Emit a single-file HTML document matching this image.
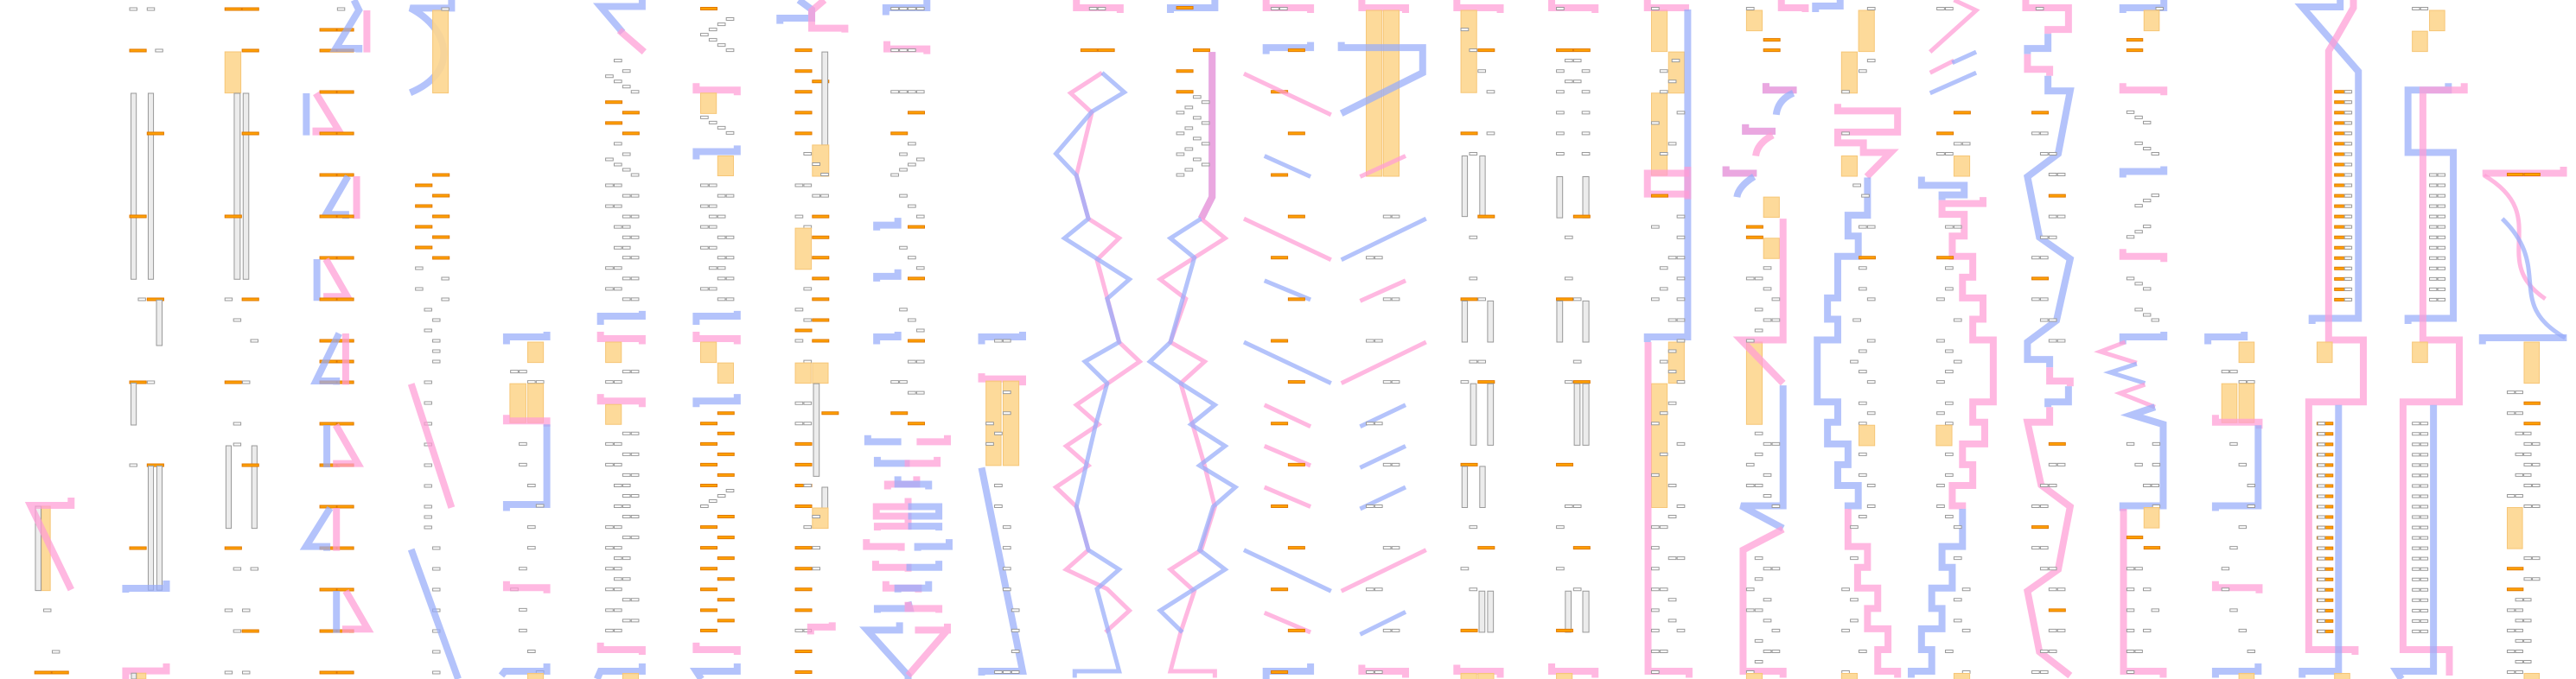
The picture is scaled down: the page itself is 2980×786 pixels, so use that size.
<!DOCTYPE html>
<html><head><meta charset="utf-8"><style>
html,body{margin:0;padding:0;background:#fff}
svg{display:block}
.b,.p,.bt,.pt{fill:none;vector-effect:non-scaling-stroke;stroke-linejoin:miter;stroke-opacity:.72}
.b{stroke:#97acf9;stroke-width:8}
.p{stroke:#ff9cd5;stroke-width:8}
.bt{stroke:#97acf9;stroke-width:5}
.pt{stroke:#ff9cd5;stroke-width:5}
.l{fill:#fdd68f;stroke:#f6c677;stroke-width:1;vector-effect:non-scaling-stroke;fill-opacity:.9}
.d{fill:#ececec;stroke:#999;stroke-width:1;vector-effect:non-scaling-stroke}
</style></head><body>
<svg width="2980" height="786" viewBox="0 0 2980 786" xmlns="http://www.w3.org/2000/svg">
<defs>
<rect id="P" width="22" height="6" fill="#fff" stroke="#999" stroke-width="1" vector-effect="non-scaling-stroke"/>
<rect id="O" width="48" height="6" fill="#ffa200" stroke="#e07800" stroke-width="1" vector-effect="non-scaling-stroke"/>
<rect id="P2" width="22" height="9" fill="#fff" stroke="#999" stroke-width="1" vector-effect="non-scaling-stroke"/>
<rect id="O2" width="50" height="9" fill="#ffa200" stroke="#e07800" stroke-width="1" vector-effect="non-scaling-stroke"/>
</defs>

<!-- G1 -->
<g transform="translate(0,0) scale(0.3827,0.3333)">
<use href="#P2" x="392" y="27"/><use href="#P2" x="445" y="27"/>
<use href="#O2" x="392" y="171"/><use href="#P2" x="470" y="171"/>
<rect class="d" x="396" y="324" width="16" height="646"/><rect class="d" x="448" y="324" width="16" height="646"/>
<use href="#O2" x="445" y="459"/><use href="#O2" x="392" y="747"/>
<use href="#P2" x="418" y="1035"/><use href="#O2" x="445" y="1035"/>
<rect class="d" x="473" y="1042" width="17" height="158"/>
<use href="#O2" x="680" y="27"/><use href="#O2" x="732" y="27"/><use href="#O2" x="732" y="171"/>
<rect class="l" x="680" y="180" width="48" height="143"/>
<rect class="d" x="708" y="324" width="18" height="646"/><rect class="d" x="735" y="324" width="17" height="646"/>
<use href="#O2" x="732" y="459"/><use href="#O2" x="680" y="747"/>
<use href="#P2" x="680" y="1035"/><use href="#O2" x="732" y="1035"/>
<use href="#P2" x="706" y="1107"/><use href="#P2" x="758" y="1179"/>
<use href="#P2" x="1020" y="27"/>
<use href="#O2" x="967" y="99"/><use href="#O2" x="1019" y="99"/><use href="#O2" x="967" y="171"/><use href="#O2" x="1019" y="171"/>
<path class="b" d="M1070,0 L1085,35 L1015,168 L1085,168 L1085,182"/>
<path class="p" d="M1109,36 L1109,182"/>
<use href="#O2" x="967" y="315"/><use href="#O2" x="1019" y="315"/>
<path class="b" d="M926,324 L926,470"/>
<path class="p" d="M955,324 L1025,455 L955,455 L955,470"/>
<use href="#O2" x="967" y="459"/><use href="#O2" x="1019" y="459"/>
<use href="#O2" x="967" y="603"/><use href="#O2" x="1019" y="603"/>
<path class="b" d="M1052,612 L985,745 L1045,745 L1045,760"/>
<path class="p" d="M1078,612 L1078,760"/>
<use href="#O2" x="967" y="747"/><use href="#O2" x="1019" y="747"/>
<use href="#O2" x="967" y="891"/><use href="#O2" x="1019" y="891"/>
<path class="b" d="M958,900 L958,1045"/>
<path class="p" d="M985,900 L1050,1030 L988,1030 L988,1045"/>
<use href="#O2" x="967" y="1035"/><use href="#O2" x="1019" y="1035"/>
<use href="#O2" x="967" y="1179"/><use href="#O2" x="1019" y="1179"/>
<path class="b" d="M1365,0 L1365,28 L1240,28 C1360,100 1390,250 1240,322"/>
<rect class="l" x="1308" y="36" width="47" height="287"/>
<use href="#P2" x="1335" y="27"/>
<use href="#O2" x="1308" y="603"/><use href="#O2" x="1256" y="639"/><use href="#O2" x="1308" y="675"/><use href="#O2" x="1256" y="711"/><use href="#O2" x="1308" y="747"/><use href="#O2" x="1256" y="783"/><use href="#O2" x="1308" y="819"/><use href="#O2" x="1256" y="855"/><use href="#O2" x="1308" y="891"/>
<use href="#P2" x="1256" y="927"/><use href="#P2" x="1335" y="963"/><use href="#P2" x="1256" y="999"/><use href="#P2" x="1335" y="1035"/><use href="#P2" x="1283" y="1071"/><use href="#P2" x="1308" y="1107"/><use href="#P2" x="1283" y="1143"/><use href="#P2" x="1308" y="1179"/>
</g>

<!-- G2 -->
<g transform="translate(0,386) scale(0.3827,0.3333)">
<use href="#O2" x="392" y="165"/><use href="#P2" x="445" y="165"/>
<rect class="d" x="396" y="172" width="16" height="146"/>
<use href="#P2" x="392" y="453"/><use href="#O2" x="445" y="453"/>
<rect class="d" x="448" y="460" width="16" height="432"/><rect class="d" x="474" y="460" width="16" height="432"/>
<use href="#O2" x="392" y="741"/>
<path class="b" d="M380,900 L380,885 L503,885 L503,858"/>
<path class="p" d="M380,1200 L380,1172 L503,1172 L503,1146"/>
<rect class="l" x="413" y="1180" width="28" height="20"/>
<rect class="d" x="397" y="1180" width="15" height="20"/>
<rect class="l" x="125" y="600" width="27" height="293"/>
<rect class="d" x="107" y="600" width="17" height="293"/>
<path class="p" d="M215,570 L215,597 L92,597 L215,890"/>
<use href="#P2" x="132" y="957"/><use href="#P2" x="158" y="1101"/><use href="#O2" x="105" y="1173"/><use href="#O2" x="157" y="1173"/>
<use href="#P2" x="758" y="21"/><use href="#O2" x="680" y="165"/><use href="#P2" x="733" y="165"/>
<use href="#P2" x="706" y="309"/><use href="#P2" x="706" y="381"/>
<rect class="d" x="683" y="390" width="16" height="287"/><rect class="d" x="761" y="390" width="16" height="287"/>
<use href="#O2" x="732" y="453"/><use href="#O2" x="680" y="741"/>
<use href="#P2" x="706" y="813"/><use href="#P2" x="758" y="813"/><use href="#P2" x="680" y="957"/><use href="#P2" x="733" y="957"/>
<use href="#P2" x="706" y="1029"/><use href="#O2" x="732" y="1029"/><use href="#P2" x="680" y="1173"/><use href="#P2" x="733" y="1173"/>
<use href="#O2" x="967" y="21"/><use href="#O2" x="1019" y="21"/>
<use href="#O2" x="967" y="93"/><use href="#O2" x="1019" y="93"/>
<use href="#O2" x="967" y="165"/><use href="#O2" x="1019" y="165"/>
<use href="#O2" x="967" y="309"/><use href="#O2" x="1019" y="309"/>
<use href="#O2" x="967" y="453"/><use href="#O2" x="1019" y="453"/>
<use href="#O2" x="967" y="597"/><use href="#O2" x="1019" y="597"/>
<use href="#O2" x="967" y="741"/><use href="#O2" x="1019" y="741"/>
<use href="#O2" x="967" y="885"/><use href="#O2" x="1019" y="885"/>
<use href="#O2" x="967" y="1029"/><use href="#O2" x="1019" y="1029"/>
<use href="#O2" x="967" y="1173"/><use href="#O2" x="1019" y="1173"/>
<path class="b" d="M1025,0 L955,165 L1017,165 L1017,178"/>
<path class="p" d="M1045,0 L1045,178"/>
<path class="b" d="M988,318 L988,465"/>
<path class="p" d="M1015,318 L1082,452 L1017,452 L1017,465"/>
<path class="b" d="M998,606 L925,740 L988,740 L988,755"/>
<path class="p" d="M1017,606 L1017,755"/>
<path class="b" d="M1017,894 L1017,1040"/>
<path class="p" d="M1045,894 L1112,1027 L1045,1027 L1045,1040"/>
<use href="#P2" x="1308" y="21"/><use href="#P2" x="1308" y="57"/><use href="#P2" x="1308" y="93"/><use href="#P2" x="1283" y="165"/><use href="#P2" x="1283" y="237"/><use href="#P2" x="1283" y="309"/><use href="#P2" x="1283" y="381"/><use href="#P2" x="1283" y="453"/><use href="#P2" x="1283" y="525"/><use href="#P2" x="1283" y="597"/><use href="#P2" x="1283" y="633"/><use href="#P2" x="1283" y="669"/><use href="#P2" x="1308" y="741"/><use href="#P2" x="1308" y="813"/><use href="#P2" x="1308" y="885"/><use href="#P2" x="1308" y="957"/><use href="#P2" x="1308" y="1029"/><use href="#P2" x="1308" y="1101"/><use href="#P2" x="1308" y="1173"/>
<path class="p" d="M1243,175 L1365,605"/>
<path class="b" d="M1243,750 L1385,1200"/>
</g>

<!-- G3 -->
<g transform="translate(580,0) scale(0.3954,0.5013)">
<path class="b" d="M15,795 L15,778 L133,778 L133,766"/>
<rect class="l" x="77" y="790" width="46" height="47"/>
<use href="#P" x="27" y="855"/><use href="#P" x="52" y="855"/><use href="#P" x="77" y="879"/><use href="#P" x="102" y="879"/>
<rect class="l" x="25" y="886" width="47" height="90"/><rect class="l" x="77" y="886" width="46" height="90"/>
<path class="p" d="M15,958 L15,972 L133,972 L133,985"/>
<path class="b" d="M133,980 L133,1165 L15,1165 L15,1180"/>
<use href="#P" x="52" y="1022"/><use href="#P" x="52" y="1070"/><use href="#P" x="77" y="1118"/><use href="#P" x="102" y="1165"/><use href="#P" x="77" y="1214"/><use href="#P" x="77" y="1262"/><use href="#P" x="52" y="1310"/><use href="#P" x="27" y="1358"/><use href="#P" x="52" y="1405"/><use href="#P" x="52" y="1453"/><use href="#P" x="77" y="1501"/><use href="#P" x="102" y="1549"/>
<path class="p" d="M15,1342 L15,1357 L133,1357 L133,1370"/>
<path class="b" d="M133,1532 L133,1550 L10,1550 L0,1560"/>
<rect class="l" x="77" y="1555" width="46" height="15"/>
<!-- col6 -->
<path class="b" d="M412,0 L412,15 L290,15 L355,75"/>
<path class="p" d="M345,70 L418,120"/>
<use href="#P" x="330" y="137"/><use href="#P" x="355" y="161"/><use href="#P" x="305" y="173"/><use href="#P" x="330" y="185"/><use href="#P" x="355" y="197"/><use href="#P" x="380" y="209"/>
<use href="#O" x="305" y="233"/><use href="#O" x="355" y="257"/><use href="#O" x="305" y="281"/><use href="#O" x="355" y="305"/>
<use href="#P" x="330" y="329"/><use href="#P" x="355" y="353"/><use href="#P" x="305" y="365"/><use href="#P" x="330" y="377"/><use href="#P" x="355" y="389"/><use href="#P" x="380" y="401"/>
<use href="#P" x="305" y="425"/><use href="#P" x="330" y="425"/><use href="#P" x="355" y="449"/><use href="#P" x="380" y="449"/><use href="#P" x="305" y="473"/><use href="#P" x="330" y="473"/><use href="#P" x="355" y="497"/><use href="#P" x="380" y="497"/><use href="#P" x="330" y="521"/><use href="#P" x="355" y="521"/><use href="#P" x="355" y="545"/><use href="#P" x="380" y="545"/><use href="#P" x="330" y="569"/><use href="#P" x="355" y="569"/><use href="#P" x="355" y="592"/><use href="#P" x="380" y="592"/><use href="#P" x="305" y="616"/><use href="#P" x="330" y="616"/><use href="#P" x="355" y="640"/><use href="#P" x="380" y="640"/><use href="#P" x="305" y="664"/><use href="#P" x="330" y="664"/><use href="#P" x="355" y="688"/><use href="#P" x="380" y="688"/>
<path class="b" d="M290,750 L290,730 L412,730 L412,718"/>
<path class="p" d="M290,766 L290,782 L412,782 L412,795"/>
<rect class="l" x="305" y="790" width="46" height="47"/>
<use href="#P" x="355" y="855"/><use href="#P" x="380" y="855"/><use href="#P" x="305" y="879"/><use href="#P" x="330" y="879"/>
<path class="p" d="M290,910 L290,926 L412,926 L412,940"/>
<rect class="l" x="305" y="934" width="46" height="46"/>
<use href="#P" x="355" y="998"/><use href="#P" x="380" y="998"/><use href="#P" x="305" y="1022"/><use href="#P" x="330" y="1022"/><use href="#P" x="355" y="1046"/><use href="#P" x="380" y="1046"/><use href="#P" x="305" y="1070"/><use href="#P" x="330" y="1070"/><use href="#P" x="355" y="1094"/><use href="#P" x="380" y="1094"/><use href="#P" x="330" y="1118"/><use href="#P" x="355" y="1118"/><use href="#P" x="355" y="1142"/><use href="#P" x="380" y="1142"/><use href="#P" x="330" y="1166"/><use href="#P" x="355" y="1166"/><use href="#P" x="355" y="1190"/><use href="#P" x="380" y="1190"/><use href="#P" x="305" y="1214"/><use href="#P" x="330" y="1214"/><use href="#P" x="355" y="1238"/><use href="#P" x="380" y="1238"/><use href="#P" x="305" y="1262"/><use href="#P" x="330" y="1262"/><use href="#P" x="330" y="1286"/><use href="#P" x="355" y="1286"/><use href="#P" x="305" y="1310"/><use href="#P" x="330" y="1310"/><use href="#P" x="330" y="1334"/><use href="#P" x="355" y="1334"/><use href="#P" x="305" y="1358"/><use href="#P" x="330" y="1358"/><use href="#P" x="355" y="1382"/><use href="#P" x="380" y="1382"/><use href="#P" x="305" y="1406"/><use href="#P" x="330" y="1406"/><use href="#P" x="355" y="1430"/><use href="#P" x="380" y="1430"/><use href="#P" x="305" y="1453"/><use href="#P" x="330" y="1453"/>
<path class="p" d="M290,1484 L290,1500 L412,1500 L412,1512"/>
<path class="b" d="M412,1532 L412,1550 L290,1550 L280,1568"/>
<rect class="l" x="355" y="1555" width="46" height="15"/>
<!-- col7 -->
<use href="#O" x="583" y="17"/><use href="#P" x="658" y="41"/><use href="#P" x="633" y="53"/><use href="#P" x="608" y="65"/><use href="#P" x="583" y="77"/><use href="#P" x="608" y="89"/><use href="#P" x="633" y="101"/><use href="#P" x="658" y="113"/>
<path class="p" d="M570,192 L570,208 L690,208 L690,220"/>
<rect class="l" x="583" y="215" width="46" height="47"/>
<use href="#P" x="583" y="268"/><use href="#P" x="608" y="280"/><use href="#P" x="633" y="292"/><use href="#P" x="658" y="304"/>
<path class="b" d="M570,368 L570,350 L690,350 L690,336"/>
<rect class="l" x="633" y="360" width="46" height="46"/>
<use href="#P" x="583" y="425"/><use href="#P" x="608" y="425"/><use href="#P" x="633" y="449"/><use href="#P" x="658" y="449"/><use href="#P" x="583" y="473"/><use href="#P" x="608" y="473"/><use href="#P" x="608" y="497"/><use href="#P" x="633" y="497"/><use href="#P" x="583" y="521"/><use href="#P" x="608" y="521"/><use href="#P" x="633" y="545"/><use href="#P" x="658" y="545"/><use href="#P" x="583" y="569"/><use href="#P" x="608" y="569"/><use href="#P" x="633" y="592"/><use href="#P" x="658" y="592"/><use href="#P" x="608" y="616"/><use href="#P" x="633" y="616"/><use href="#P" x="633" y="640"/><use href="#P" x="658" y="640"/><use href="#P" x="583" y="664"/><use href="#P" x="608" y="664"/><use href="#P" x="633" y="688"/><use href="#P" x="658" y="688"/>
<path class="b" d="M570,750 L570,730 L690,730 L690,718"/>
<path class="p" d="M570,766 L570,782 L690,782 L690,795"/>
<rect class="l" x="583" y="790" width="46" height="47"/><rect class="l" x="633" y="838" width="46" height="47"/>
<path class="b" d="M570,940 L570,926 L690,926 L690,910"/>
<use href="#O" x="633" y="951"/><use href="#O" x="583" y="975"/><use href="#O" x="633" y="998"/><use href="#O" x="583" y="1022"/><use href="#O" x="633" y="1046"/><use href="#O" x="583" y="1070"/><use href="#O" x="633" y="1094"/><use href="#O" x="583" y="1118"/>
<use href="#P" x="658" y="1130"/><use href="#P" x="633" y="1142"/><use href="#P" x="608" y="1154"/><use href="#P" x="583" y="1166"/>
<use href="#O" x="633" y="1190"/><use href="#O" x="583" y="1214"/><use href="#O" x="633" y="1238"/><use href="#O" x="583" y="1262"/><use href="#O" x="633" y="1286"/><use href="#O" x="583" y="1310"/><use href="#O" x="633" y="1334"/><use href="#O" x="583" y="1358"/><use href="#O" x="633" y="1382"/><use href="#O" x="583" y="1406"/><use href="#O" x="633" y="1430"/><use href="#O" x="583" y="1453"/>
<path class="p" d="M570,1484 L570,1500 L690,1500 L690,1512"/>
<path class="b" d="M690,1532 L690,1550 L570,1550 L585,1568"/>
<!-- col8 -->
<path class="b" d="M870,0 L908,22 L908,42 L815,42 L815,55"/>
<path class="p" d="M945,0 L908,25 L908,65 L1005,65 L1005,75"/>
<use href="#O" x="860" y="113"/><use href="#O" x="860" y="161"/><use href="#O" x="860" y="209"/><use href="#O" x="860" y="257"/><use href="#O" x="860" y="305"/><use href="#O" x="910" y="185"/>
<rect class="d" x="938" y="120" width="17" height="215"/>
<rect class="l" x="910" y="335" width="48" height="72"/>
<use href="#P" x="885" y="352"/><use href="#P" x="910" y="376"/><use href="#P" x="935" y="400"/>
<use href="#P" x="860" y="425"/><use href="#P" x="885" y="425"/><use href="#P" x="910" y="449"/><use href="#P" x="935" y="449"/>
<use href="#P" x="860" y="497"/><use href="#O" x="910" y="497"/><use href="#P" x="885" y="521"/>
<rect class="l" x="860" y="527" width="47" height="95"/>
<use href="#O" x="910" y="545"/><use href="#O" x="910" y="592"/><use href="#O" x="910" y="640"/><use href="#O" x="910" y="688"/><use href="#O" x="910" y="736"/><use href="#O" x="910" y="784"/>
<use href="#P" x="885" y="664"/><use href="#P" x="860" y="712"/><use href="#P" x="885" y="736"/><use href="#O" x="860" y="760"/><use href="#P" x="860" y="784"/><use href="#P" x="885" y="832"/>
<rect class="l" x="860" y="838" width="46" height="47"/><rect class="l" x="910" y="838" width="46" height="47"/>
<use href="#P" x="860" y="928"/><use href="#P" x="885" y="928"/><use href="#O" x="938" y="951"/><use href="#P" x="860" y="975"/><use href="#P" x="885" y="975"/>
<rect class="d" x="913" y="886" width="17" height="214"/>
<use href="#O" x="860" y="1022"/><use href="#O" x="860" y="1070"/><use href="#O" x="860" y="1118"/><use href="#O" x="860" y="1166"/><use href="#P" x="885" y="1118"/>
<rect class="d" x="938" y="1125" width="17" height="48"/>
<rect class="l" x="910" y="1173" width="46" height="47"/>
<use href="#P" x="910" y="1190"/><use href="#P" x="885" y="1214"/>
<use href="#O" x="860" y="1262"/><use href="#O" x="860" y="1310"/><use href="#O" x="860" y="1358"/><use href="#O" x="860" y="1406"/><use href="#O" x="860" y="1501"/><use href="#O" x="860" y="1549"/>
<use href="#P" x="910" y="1262"/><use href="#P" x="910" y="1310"/><use href="#P" x="860" y="1453"/><use href="#P" x="885" y="1453"/>
<path class="p" d="M905,1465 L905,1448 L968,1448 L968,1437"/>
<!-- col9 -->
<path class="b" d="M1125,35 L1125,18 L1245,18 L1245,0"/>
<use href="#P" x="1140" y="17"/><use href="#P" x="1165" y="17"/><use href="#P" x="1190" y="17"/><use href="#P" x="1215" y="17"/>
<path class="p" d="M1128,95 L1128,113 L1245,113 L1245,125"/>
<use href="#P" x="1140" y="113"/><use href="#P" x="1165" y="113"/><use href="#P" x="1190" y="113"/>
<use href="#P" x="1140" y="209"/><use href="#P" x="1165" y="209"/><use href="#P" x="1190" y="209"/><use href="#P" x="1215" y="209"/>
<use href="#O" x="1190" y="257"/><use href="#O" x="1140" y="305"/>
<use href="#P" x="1190" y="329"/><use href="#P" x="1165" y="353"/><use href="#P" x="1215" y="365"/><use href="#P" x="1190" y="377"/><use href="#P" x="1165" y="389"/><use href="#P" x="1140" y="401"/><use href="#P" x="1165" y="449"/><use href="#P" x="1190" y="473"/><use href="#P" x="1215" y="497"/>
<path class="b" d="M1098,532 L1098,520 L1160,520 L1160,503"/><use href="#O" x="1190" y="521"/>
<use href="#P" x="1165" y="569"/><use href="#P" x="1190" y="592"/><use href="#P" x="1215" y="616"/>
<path class="b" d="M1098,650 L1098,638 L1160,638 L1160,622"/><use href="#O" x="1190" y="640"/>
<use href="#P" x="1165" y="712"/><use href="#P" x="1190" y="736"/><use href="#P" x="1215" y="760"/>
<path class="b" d="M1098,795 L1098,778 L1160,778 L1160,766"/><use href="#O" x="1190" y="784"/>
<use href="#P" x="1190" y="832"/><use href="#P" x="1215" y="832"/><use href="#P" x="1140" y="879"/><use href="#P" x="1165" y="879"/><use href="#P" x="1190" y="904"/><use href="#P" x="1215" y="904"/>
<use href="#O" x="1140" y="951"/><use href="#O" x="1190" y="975"/>
<path class="b" d="M1072,1005 L1072,1020 L1170,1020"/>
<path class="p" d="M1215,1020 L1305,1020 L1305,1005"/>
<path class="b" d="M1100,1055 L1100,1070 L1195,1070"/>
<path class="p" d="M1180,1070 L1275,1070 L1275,1055"/>
<path class="p" d="M1130,1130 L1130,1118 L1215,1118 L1215,1100"/>
<path class="b" d="M1160,1100 L1160,1118 L1250,1118 L1250,1130"/>
<path class="p" d="M1190,1150 L1190,1170 L1097,1170 L1097,1192 L1190,1192 L1190,1215 L1100,1215 L1100,1225"/>
<path class="b" d="M1190,1170 L1280,1170 L1280,1192 L1190,1192 M1190,1215 L1280,1215 L1280,1225"/>
<path class="p" d="M1068,1245 L1068,1262 L1170,1262 L1170,1272"/>
<path class="b" d="M1218,1272 L1218,1262 L1310,1262 L1310,1245"/>
<path class="p" d="M1095,1295 L1095,1310 L1190,1310 L1190,1320"/>
<path class="b" d="M1185,1310 L1280,1310 L1280,1295"/>
<path class="p" d="M1125,1342 L1125,1358 L1220,1358 L1220,1368"/>
<path class="b" d="M1160,1368 L1160,1358 L1250,1358 L1250,1342"/>
<path class="b" d="M1100,1415 L1100,1405 L1195,1405 L1190,1390"/>
<path class="p" d="M1190,1390 L1190,1405 L1280,1405 L1280,1415"/>
<path class="b" d="M1165,1437 L1165,1455 L1070,1455 L1190,1560 L1190,1570"/>
<path class="p" d="M1210,1455 L1305,1455 L1305,1440 M1305,1455 L1190,1560"/>
<!-- col10 -->
<path class="b" d="M1405,795 L1405,778 L1525,778 L1525,766"/>
<use href="#P" x="1443" y="784"/><use href="#P" x="1468" y="784"/>
<path class="p" d="M1405,862 L1405,875 L1525,875 L1525,890"/>
<rect class="l" x="1418" y="880" width="44" height="195"/><rect class="l" x="1468" y="880" width="46" height="195"/>
<use href="#P" x="1468" y="903"/><use href="#P" x="1468" y="951"/><use href="#P" x="1418" y="975"/><use href="#P" x="1443" y="998"/><use href="#P" x="1418" y="1022"/>
<path class="b" d="M1405,1080 L1525,1550 L1405,1550 L1405,1560"/>
<use href="#P" x="1443" y="1118"/><use href="#P" x="1443" y="1166"/><use href="#P" x="1468" y="1214"/><use href="#P" x="1468" y="1262"/><use href="#P" x="1468" y="1310"/><use href="#P" x="1468" y="1358"/><use href="#P" x="1493" y="1406"/><use href="#P" x="1493" y="1453"/><use href="#P" x="1493" y="1501"/><use href="#P" x="1443" y="1549"/><use href="#P" x="1468" y="1549"/><use href="#P" x="1493" y="1549"/>
</g>

<!-- G4 -->
<g transform="translate(1180,0) scale(0.3954,0.5013)">
<path class="p" d="M165,0 L165,18 L293,18 L293,30"/>
<use href="#P" x="203" y="17"/><use href="#P" x="228" y="17"/>
<use href="#O" x="178" y="113"/><use href="#O" x="228" y="113"/>
<path class="pt" d="M240,168 L148,215 L210,260 L165,405 L200,505 L290,550 L225,600 L290,790 L350,835 L165,935 L230,980 L135,1030 L200,1075 L105,1125 L165,1170 L200,1270 L135,1315 L255,1360 L320,1410 L250,1460"/>
<path class="bt" d="M240,168 L305,213 L210,258 L105,355 L165,405 L200,505 L130,550 L220,595 L320,645 L255,690 L290,790 L190,835 L255,885 L220,985 L165,1170 L200,1270 L290,1315 L225,1360 L290,1550 L160,1550 L160,1565"/>
<path class="b" d="M440,30 L440,18 L570,18 L570,0"/>
<use href="#O" x="458" y="15"/><use href="#O" x="507" y="113"/>
<path class="b" d="M562,120 L562,455 L530,505"/>
<path class="p" d="M562,120 L562,455 L530,505"/>
<use href="#O" x="458" y="161"/><use href="#O" x="458" y="209"/>
<use href="#P" x="507" y="221"/><use href="#P" x="532" y="233"/><use href="#P" x="483" y="245"/><use href="#P" x="458" y="257"/><use href="#P" x="507" y="269"/><use href="#P" x="532" y="281"/><use href="#P" x="483" y="293"/><use href="#P" x="458" y="305"/><use href="#P" x="507" y="317"/><use href="#P" x="532" y="329"/><use href="#P" x="483" y="341"/><use href="#P" x="458" y="353"/><use href="#P" x="507" y="365"/><use href="#P" x="532" y="377"/><use href="#P" x="483" y="389"/><use href="#P" x="458" y="401"/>
<path class="pt" d="M530,505 L600,550 L410,645 L485,690 L440,790 L540,835 L470,885 L540,1075 L570,1170 L530,1270 L440,1315 L510,1365 L470,1460 L440,1550 L570,1550 L570,1565"/>
<path class="bt" d="M530,505 L440,550 L510,595 L440,790 L380,835 L470,885 L570,935 L500,980 L600,1030 L525,1075 L630,1125 L565,1170 L525,1270 L600,1315 L410,1410 L475,1460"/>
<path class="p" d="M720,0 L720,18 L850,18 L850,30"/>
<use href="#P" x="735" y="17"/><use href="#P" x="760" y="17"/>
<path class="b" d="M720,125 L720,110 L850,110 L850,97"/>
<use href="#O" x="785" y="113"/><use href="#O" x="735" y="209"/>
<path class="pt" d="M655,170 L910,265"/>
<use href="#O" x="785" y="305"/>
<path class="bt" d="M715,360 L850,408"/><use href="#O" x="735" y="401"/><use href="#O" x="785" y="497"/>
<path class="pt" d="M655,505 L910,600"/><use href="#O" x="735" y="592"/>
<path class="bt" d="M715,648 L850,692"/><use href="#O" x="785" y="688"/><use href="#O" x="735" y="784"/>
<path class="bt" d="M655,790 L910,885"/><use href="#O" x="785" y="879"/>
<path class="pt" d="M715,935 L850,985"/><use href="#O" x="735" y="975"/>
<path class="pt" d="M715,1030 L850,1075"/><use href="#O" x="785" y="1070"/>
<path class="pt" d="M715,1125 L850,1170"/><use href="#O" x="735" y="1166"/><use href="#O" x="785" y="1262"/>
<path class="bt" d="M655,1270 L910,1365"/><use href="#O" x="735" y="1358"/>
<path class="pt" d="M715,1415 L850,1460"/><use href="#O" x="785" y="1453"/>
<path class="b" d="M720,1568 L720,1550 L850,1550 L850,1532"/><use href="#O" x="735" y="1549"/>
<path class="p" d="M1000,0 L1000,18 L1128,18 L1128,30"/>
<rect class="l" x="1013" y="24" width="46" height="383"/><rect class="l" x="1063" y="24" width="46" height="383"/>
<path class="b" d="M940,97 L940,110 L1178,110 L1178,168 L940,262"/>
<path class="pt" d="M995,408 L1128,360"/>
<use href="#P" x="1063" y="497"/><use href="#P" x="1088" y="497"/>
<path class="bt" d="M940,600 L1188,505"/>
<use href="#P" x="1013" y="592"/><use href="#P" x="1038" y="592"/>
<path class="pt" d="M995,695 L1128,648"/>
<use href="#P" x="1063" y="688"/><use href="#P" x="1088" y="688"/><use href="#P" x="1013" y="784"/><use href="#P" x="1038" y="784"/>
<path class="pt" d="M940,885 L1188,790"/>
<use href="#P" x="1063" y="879"/><use href="#P" x="1088" y="879"/>
<path class="bt" d="M995,985 L1128,935"/><use href="#P" x="1013" y="975"/><use href="#P" x="1038" y="975"/>
<path class="bt" d="M995,1080 L1128,1030"/><use href="#P" x="1063" y="1070"/><use href="#P" x="1088" y="1070"/>
<path class="bt" d="M995,1175 L1128,1125"/><use href="#P" x="1013" y="1166"/><use href="#P" x="1038" y="1166"/>
<use href="#P" x="1063" y="1262"/><use href="#P" x="1088" y="1262"/>
<path class="pt" d="M940,1365 L1188,1270"/><use href="#P" x="1013" y="1358"/><use href="#P" x="1038" y="1358"/>
<path class="bt" d="M995,1465 L1128,1413"/><use href="#P" x="1063" y="1453"/><use href="#P" x="1088" y="1453"/>
<path class="p" d="M1000,1535 L1000,1550 L1128,1550 L1128,1565"/><use href="#P" x="1013" y="1549"/><use href="#P" x="1038" y="1549"/>
<path class="p" d="M1278,0 L1278,18 L1405,18 L1405,30"/>
<rect class="l" x="1290" y="24" width="46" height="190"/>
<use href="#P" x="1290" y="65"/><use href="#P" x="1315" y="113"/><use href="#O" x="1340" y="113"/><use href="#P" x="1340" y="161"/><use href="#P" x="1366" y="209"/>
<use href="#O" x="1290" y="305"/><use href="#P" x="1366" y="305"/><use href="#P" x="1315" y="352"/>
<rect class="d" x="1293" y="360" width="16" height="140"/><rect class="d" x="1345" y="360" width="16" height="140"/>
<use href="#O" x="1340" y="497"/><use href="#P" x="1315" y="545"/><use href="#P" x="1315" y="640"/>
<use href="#O" x="1290" y="688"/><use href="#P" x="1340" y="688"/>
<rect class="d" x="1293" y="695" width="16" height="95"/><rect class="d" x="1368" y="695" width="17" height="95"/>
<use href="#P" x="1315" y="832"/><use href="#P" x="1340" y="832"/><use href="#P" x="1290" y="879"/><use href="#O" x="1340" y="879"/>
<rect class="d" x="1318" y="886" width="17" height="142"/><rect class="d" x="1368" y="886" width="17" height="142"/>
<use href="#O" x="1290" y="1070"/>
<rect class="d" x="1293" y="1077" width="16" height="95"/><rect class="d" x="1345" y="1077" width="16" height="95"/>
<use href="#P" x="1315" y="1214"/><use href="#O" x="1340" y="1262"/><use href="#P" x="1290" y="1310"/><use href="#P" x="1315" y="1358"/>
<rect class="d" x="1343" y="1365" width="17" height="95"/><rect class="d" x="1368" y="1365" width="17" height="95"/>
<use href="#O" x="1290" y="1453"/>
<path class="p" d="M1278,1535 L1278,1550 L1405,1550 L1405,1565"/>
<rect class="l" x="1290" y="1555" width="46" height="15"/><rect class="l" x="1340" y="1555" width="46" height="15"/>
</g>

<!-- G5 -->
<g transform="translate(1780,0) scale(0.3954,0.5013)">
<path class="p" d="M38,0 L38,18 L165,18 L165,30"/>
<use href="#P" x="52" y="17"/><use href="#O" x="52" y="113"/><use href="#O" x="102" y="113"/>
<use href="#P" x="77" y="137"/><use href="#P" x="102" y="137"/><use href="#P" x="52" y="161"/><use href="#P" x="127" y="161"/><use href="#P" x="77" y="185"/><use href="#P" x="102" y="185"/><use href="#P" x="52" y="209"/><use href="#P" x="127" y="209"/><use href="#P" x="52" y="257"/><use href="#P" x="127" y="257"/><use href="#P" x="52" y="305"/><use href="#P" x="127" y="305"/><use href="#P" x="52" y="352"/><use href="#P" x="127" y="352"/>
<rect class="d" x="53" y="408" width="17" height="95"/><rect class="d" x="129" y="408" width="18" height="95"/>
<use href="#O" x="102" y="497"/><use href="#P" x="77" y="545"/><use href="#P" x="77" y="640"/><use href="#O" x="52" y="688"/><use href="#P" x="102" y="688"/>
<rect class="d" x="53" y="695" width="17" height="95"/><rect class="d" x="129" y="695" width="18" height="95"/>
<use href="#P" x="102" y="832"/><use href="#P" x="77" y="879"/><use href="#O" x="102" y="879"/>
<rect class="d" x="104" y="886" width="17" height="142"/><rect class="d" x="129" y="886" width="18" height="142"/>
<use href="#O" x="52" y="1070"/><use href="#P" x="77" y="1166"/><use href="#P" x="102" y="1166"/><use href="#P" x="52" y="1214"/><use href="#O" x="102" y="1262"/><use href="#P" x="52" y="1310"/><use href="#P" x="102" y="1358"/>
<rect class="d" x="78" y="1365" width="17" height="95"/><rect class="d" x="129" y="1365" width="18" height="95"/>
<use href="#O" x="52" y="1453"/>
<path class="p" d="M38,1532 L38,1550 L165,1550 L165,1565"/>
<rect class="l" x="52" y="1555" width="46" height="15"/>
<!-- col17 -->
<rect class="l" x="330" y="24" width="46" height="95"/><rect class="l" x="380" y="120" width="46" height="95"/><rect class="l" x="330" y="215" width="46" height="190"/>
<rect class="l" x="380" y="790" width="46" height="95"/><rect class="l" x="330" y="886" width="46" height="286"/>
<path class="p" d="M318,0 L318,18 L440,18"/>
<path class="b" d="M436,22 L436,778 L318,778 L318,790"/>
<path class="p" d="M440,400 L318,400 L318,448 L440,448"/>
<path class="p" d="M436,385 L436,460"/>
<path class="p" d="M320,790 L320,1550 L440,1550 L440,1565"/>
<use href="#P" x="330" y="17"/><use href="#P" x="390" y="137"/><use href="#P" x="355" y="161"/><use href="#P" x="380" y="185"/><use href="#P" x="355" y="209"/><use href="#P" x="405" y="257"/><use href="#P" x="330" y="281"/><use href="#P" x="380" y="329"/><use href="#P" x="355" y="352"/>
<use href="#O" x="330" y="449"/>
<use href="#P" x="405" y="497"/><use href="#P" x="330" y="521"/><use href="#P" x="405" y="545"/><use href="#P" x="380" y="592"/><use href="#P" x="405" y="592"/><use href="#P" x="355" y="616"/><use href="#P" x="405" y="640"/><use href="#P" x="355" y="664"/><use href="#P" x="330" y="688"/><use href="#P" x="405" y="688"/><use href="#P" x="380" y="736"/><use href="#P" x="405" y="736"/><use href="#P" x="405" y="784"/><use href="#P" x="380" y="808"/><use href="#P" x="355" y="832"/><use href="#P" x="380" y="855"/><use href="#P" x="405" y="879"/>
<use href="#P" x="380" y="928"/><use href="#P" x="355" y="951"/><use href="#P" x="330" y="975"/><use href="#P" x="405" y="1022"/><use href="#P" x="355" y="1046"/><use href="#P" x="330" y="1094"/><use href="#P" x="380" y="1118"/><use href="#P" x="405" y="1166"/><use href="#P" x="380" y="1190"/><use href="#P" x="330" y="1214"/><use href="#P" x="355" y="1214"/><use href="#P" x="330" y="1262"/><use href="#P" x="380" y="1286"/><use href="#P" x="405" y="1286"/><use href="#P" x="330" y="1310"/><use href="#P" x="330" y="1358"/><use href="#P" x="355" y="1358"/><use href="#P" x="380" y="1382"/><use href="#P" x="330" y="1406"/><use href="#P" x="380" y="1430"/><use href="#P" x="330" y="1453"/><use href="#P" x="405" y="1453"/><use href="#P" x="330" y="1501"/><use href="#P" x="355" y="1501"/><use href="#P" x="330" y="1549"/>
<!-- col18 -->
<path class="p" d="M710,0 L710,18 L780,18 L780,28"/>
<rect class="l" x="608" y="24" width="46" height="47"/><use href="#P" x="608" y="17"/>
<use href="#O" x="658" y="89"/><use href="#O" x="658" y="113"/>
<path class="b" d="M665,192 L665,208 L755,208"/><path class="p" d="M665,192 L665,208 L755,208"/>
<path class="b" d="M745,215 Q700,230 695,265" style="stroke-width:8"/>
<path class="b" d="M605,287 L605,303 L693,303"/><path class="p" d="M605,287 L605,303 L693,303"/>
<path class="p" d="M685,312 Q640,330 635,360"/>
<path class="b" d="M548,384 L548,400 L638,400"/><path class="p" d="M548,384 L548,400 L638,400"/>
<path class="b" d="M630,408 Q585,430 580,455"/>
<rect class="l" x="658" y="455" width="46" height="47"/>
<use href="#O" x="608" y="521"/><use href="#O" x="608" y="545"/>
<rect class="l" x="658" y="550" width="46" height="47"/>
<rect class="l" x="608" y="790" width="46" height="190"/>
<path class="p" d="M715,505 L715,785 L592,785 L715,885"/>
<path class="b" d="M715,890 L715,1168 L592,1168 L715,1220"/>
<path class="p" d="M715,1222 L598,1270 L598,1550 L715,1550 L715,1565"/>
<use href="#P" x="658" y="616"/><use href="#P" x="608" y="640"/><use href="#P" x="633" y="640"/><use href="#P" x="658" y="664"/><use href="#P" x="683" y="688"/><use href="#P" x="633" y="712"/><use href="#P" x="658" y="736"/><use href="#P" x="683" y="736"/><use href="#P" x="633" y="760"/><use href="#P" x="608" y="784"/>
<use href="#P" x="633" y="998"/><use href="#P" x="658" y="1022"/><use href="#P" x="683" y="1022"/><use href="#P" x="633" y="1046"/><use href="#P" x="608" y="1070"/><use href="#P" x="658" y="1094"/><use href="#P" x="608" y="1118"/><use href="#P" x="633" y="1118"/><use href="#P" x="658" y="1142"/><use href="#P" x="683" y="1166"/>
<use href="#P" x="633" y="1286"/><use href="#P" x="658" y="1310"/><use href="#P" x="683" y="1310"/><use href="#P" x="633" y="1334"/><use href="#P" x="608" y="1358"/><use href="#P" x="658" y="1382"/><use href="#P" x="608" y="1406"/><use href="#P" x="633" y="1406"/><use href="#P" x="658" y="1430"/><use href="#P" x="683" y="1453"/><use href="#P" x="633" y="1477"/><use href="#P" x="658" y="1501"/><use href="#P" x="683" y="1501"/><use href="#P" x="633" y="1525"/><use href="#P" x="608" y="1549"/>
<rect class="l" x="608" y="1555" width="46" height="15"/>
<!-- col19 -->
<path class="b" d="M810,28 L810,14 L882,14 L882,0"/>
<rect class="l" x="936" y="24" width="46" height="95"/><rect class="l" x="886" y="120" width="46" height="95"/>
<use href="#P" x="962" y="17"/><use href="#P" x="962" y="137"/><use href="#P" x="937" y="161"/><use href="#P" x="887" y="209"/>
<path class="p" d="M875,240 L875,256 L1050,256 L1050,305 L875,305 L875,330 L950,330 L950,352 L1030,352 L960,408"/>
<rect class="l" x="886" y="360" width="46" height="47"/>
<path class="b" d="M962,410 L962,497 L905,497 L905,545 L935,545 L935,592 L875,592 L875,688 L845,688 L845,737 L875,737 L875,785 L815,785 L815,928 L875,928 L875,975 L845,975 L845,1025 L905,1025 L905,1073 L875,1073 L875,1121 L935,1121 L935,1168 L905,1168 L905,1175"/>
<path class="p" d="M905,1175 L905,1262 L962,1262 L962,1310 L933,1310 L933,1358 L992,1358 L992,1405 L962,1405 L962,1452 L1022,1452 L1022,1500 L992,1500 L992,1550 L1050,1550 L1050,1565"/>
<use href="#P" x="887" y="305"/><use href="#P" x="920" y="425"/><use href="#P" x="945" y="449"/><use href="#P" x="937" y="521"/><use href="#P" x="962" y="521"/><use href="#O" x="937" y="592"/><use href="#P" x="937" y="616"/><use href="#P" x="937" y="664"/><use href="#P" x="962" y="688"/><use href="#P" x="920" y="736"/><use href="#P" x="962" y="784"/><use href="#P" x="937" y="808"/><use href="#P" x="912" y="832"/><use href="#P" x="937" y="855"/><use href="#P" x="962" y="879"/><use href="#P" x="937" y="928"/><use href="#P" x="962" y="951"/><use href="#P" x="937" y="975"/>
<rect class="l" x="937" y="982" width="46" height="47"/>
<use href="#P" x="937" y="1046"/><use href="#P" x="937" y="1094"/><use href="#P" x="962" y="1118"/><use href="#P" x="962" y="1166"/><use href="#P" x="937" y="1190"/><use href="#P" x="912" y="1214"/><use href="#P" x="912" y="1286"/><use href="#P" x="887" y="1358"/><use href="#P" x="912" y="1382"/><use href="#P" x="912" y="1430"/><use href="#P" x="887" y="1453"/><use href="#P" x="937" y="1501"/><use href="#P" x="887" y="1549"/>
<rect class="l" x="886" y="1555" width="46" height="15"/>
<!-- col20 -->
<use href="#P" x="1165" y="17"/><use href="#P" x="1190" y="17"/>
<path class="pt" d="M1215,0 L1280,24 L1145,120"/>
<path class="pt" d="M1145,168 L1215,140"/>
<path class="bt" d="M1210,145 L1280,120"/>
<path class="bt" d="M1145,215 L1280,168"/>
<use href="#O" x="1215" y="257"/><use href="#O" x="1165" y="305"/>
<use href="#P" x="1215" y="329"/><use href="#P" x="1240" y="329"/><use href="#P" x="1165" y="352"/><use href="#P" x="1190" y="352"/>
<rect class="l" x="1215" y="360" width="46" height="47"/>
<path class="b" d="M1120,408 L1120,428 L1245,428 L1245,450 L1180,450 L1180,462"/>
<path class="p" d="M1300,455 L1300,470 L1180,470 L1180,495 L1245,495 L1245,545 L1210,545 L1210,592 L1270,592 L1270,640 L1240,640 L1240,688 L1300,688 L1300,737 L1270,737 L1270,785 L1330,785 L1330,928 L1270,928 L1270,975 L1305,975 L1305,1025 L1240,1025 L1240,1073 L1270,1073 L1270,1121 L1210,1121 L1210,1168 L1240,1168 L1240,1175"/>
<path class="b" d="M1240,1175 L1240,1262 L1180,1262 L1180,1310 L1210,1310 L1210,1358 L1150,1358 L1150,1405 L1180,1405 L1180,1452 L1120,1452 L1120,1500 L1150,1500 L1150,1550 L1090,1550 L1090,1565"/>
<use href="#P" x="1190" y="521"/><use href="#P" x="1215" y="521"/><use href="#O" x="1165" y="592"/><use href="#P" x="1190" y="616"/><use href="#P" x="1190" y="664"/><use href="#P" x="1165" y="688"/><use href="#P" x="1215" y="736"/><use href="#P" x="1165" y="784"/><use href="#P" x="1190" y="808"/><use href="#P" x="1215" y="832"/><use href="#P" x="1190" y="855"/><use href="#P" x="1165" y="879"/><use href="#P" x="1190" y="928"/><use href="#P" x="1165" y="951"/><use href="#P" x="1190" y="975"/>
<rect class="l" x="1163" y="982" width="46" height="47"/>
<use href="#P" x="1190" y="1046"/><use href="#P" x="1190" y="1094"/><use href="#P" x="1165" y="1118"/><use href="#P" x="1165" y="1166"/><use href="#P" x="1190" y="1190"/><use href="#P" x="1215" y="1214"/><use href="#P" x="1215" y="1286"/><use href="#P" x="1240" y="1358"/><use href="#P" x="1215" y="1382"/><use href="#P" x="1215" y="1430"/><use href="#P" x="1240" y="1453"/><use href="#P" x="1190" y="1501"/><use href="#P" x="1240" y="1549"/>
<rect class="l" x="1215" y="1555" width="46" height="15"/>
<!-- col21 -->
<path class="p" d="M1425,0 L1425,18 L1550,18 L1550,68 L1490,68 L1490,78"/>
<path class="b" d="M1490,78 L1490,112 L1430,112 L1430,125"/>
<path class="p" d="M1430,125 L1430,160 L1495,160 L1495,175"/>
<path class="b" d="M1490,175 L1490,210 L1555,210 L1520,355 L1430,408 L1465,548 L1555,598 L1515,740 L1430,790 L1430,830 L1495,830 L1495,848"/>
<path class="p" d="M1495,848 L1495,880 L1555,880 L1555,892"/>
<path class="b" d="M1550,892 L1550,928 L1490,928 L1490,940"/>
<path class="p" d="M1495,940 L1495,975 L1430,975 L1470,1120 L1555,1170 L1520,1315 L1430,1365 L1465,1505 L1555,1560"/>
<use href="#P" x="1455" y="17"/><use href="#O" x="1443" y="257"/>
<use href="#P" x="1443" y="305"/><use href="#P" x="1468" y="305"/><use href="#P" x="1468" y="352"/><use href="#P" x="1493" y="352"/><use href="#P" x="1493" y="400"/><use href="#P" x="1518" y="400"/><use href="#O" x="1493" y="449"/><use href="#P" x="1493" y="497"/><use href="#P" x="1518" y="497"/><use href="#P" x="1468" y="545"/><use href="#P" x="1493" y="545"/><use href="#P" x="1443" y="592"/><use href="#P" x="1468" y="592"/><use href="#O" x="1443" y="640"/><use href="#P" x="1443" y="688"/><use href="#P" x="1468" y="688"/><use href="#P" x="1468" y="736"/><use href="#P" x="1493" y="736"/><use href="#P" x="1493" y="784"/><use href="#P" x="1518" y="784"/>
<use href="#O" x="1493" y="1022"/><use href="#P" x="1493" y="1070"/><use href="#P" x="1518" y="1070"/><use href="#P" x="1468" y="1118"/><use href="#P" x="1493" y="1118"/><use href="#P" x="1443" y="1166"/><use href="#P" x="1468" y="1166"/><use href="#O" x="1443" y="1214"/><use href="#P" x="1443" y="1262"/><use href="#P" x="1468" y="1262"/><use href="#P" x="1468" y="1310"/><use href="#P" x="1493" y="1310"/><use href="#P" x="1493" y="1358"/><use href="#P" x="1518" y="1358"/><use href="#O" x="1493" y="1406"/><use href="#P" x="1493" y="1453"/><use href="#P" x="1518" y="1453"/><use href="#P" x="1468" y="1501"/><use href="#P" x="1493" y="1501"/><use href="#P" x="1443" y="1549"/><use href="#P" x="1468" y="1549"/>
</g>

<!-- G6 -->
<g transform="translate(2380,0) scale(0.3827,0.5013)">
<path class="b" d="M198,30 L198,18 L322,18 L322,0"/>
<use href="#P" x="298" y="17"/><rect class="l" x="262" y="24" width="46" height="47"/>
<use href="#O" x="210" y="89"/><use href="#O" x="210" y="113"/>
<path class="p" d="M198,192 L198,208 L322,208 L322,220"/>
<use href="#P" x="210" y="256"/><use href="#P" x="235" y="268"/><use href="#P" x="260" y="280"/><use href="#P" x="235" y="328"/><use href="#P" x="260" y="340"/><use href="#P" x="285" y="352"/>
<path class="b" d="M198,410 L198,396 L322,396 L322,384"/>
<use href="#P" x="285" y="448"/><use href="#P" x="260" y="460"/><use href="#P" x="235" y="472"/><use href="#P" x="260" y="520"/><use href="#P" x="235" y="532"/><use href="#P" x="210" y="544"/>
<path class="p" d="M198,575 L198,592 L322,592 L322,605"/>
<use href="#P" x="210" y="640"/><use href="#P" x="235" y="652"/><use href="#P" x="260" y="664"/><use href="#P" x="235" y="712"/><use href="#P" x="260" y="724"/><use href="#P" x="285" y="736"/>
<path class="b" d="M198,795 L198,778 L322,778 L322,766"/>
<path class="pt" d="M205,790 L130,812 L240,838"/>
<path class="bt" d="M240,840 L160,860 L265,885"/>
<path class="pt" d="M265,888 L190,908 L295,940"/>
<path class="b" d="M295,940 L225,958 L320,980 L320,1168 L198,1168 L198,1180"/>
<use href="#P" x="210" y="1022"/><use href="#P" x="288" y="1022"/><use href="#P" x="235" y="1070"/><use href="#P" x="288" y="1070"/><use href="#P" x="260" y="1118"/><use href="#P" x="285" y="1118"/><use href="#P" x="288" y="1166"/>
<rect class="l" x="262" y="1172" width="46" height="47"/>
<path class="p" d="M200,1175 L200,1550 L320,1550 L320,1565"/>
<use href="#O" x="210" y="1238"/><use href="#O" x="262" y="1262"/>
<use href="#P" x="210" y="1310"/><use href="#P" x="235" y="1310"/><use href="#P" x="210" y="1358"/><use href="#P" x="260" y="1358"/><use href="#P" x="210" y="1406"/><use href="#P" x="285" y="1406"/><use href="#P" x="210" y="1453"/><use href="#P" x="260" y="1453"/><use href="#P" x="210" y="1501"/><use href="#P" x="235" y="1501"/><use href="#P" x="210" y="1549"/>
<!-- col23 -->
<path class="b" d="M455,795 L455,778 L565,778 L565,766"/>
<rect class="l" x="549" y="790" width="46" height="47"/>
<use href="#P" x="497" y="855"/><use href="#P" x="522" y="855"/><use href="#P" x="549" y="879"/><use href="#P" x="574" y="879"/>
<rect class="l" x="497" y="886" width="46" height="90"/><rect class="l" x="549" y="886" width="46" height="90"/>
<path class="p" d="M478,958 L478,975 L610,975 L610,990"/>
<path class="b" d="M607,982 L607,1168 L478,1168 L478,1180"/>
<use href="#P" x="522" y="1022"/><use href="#P" x="549" y="1070"/><use href="#P" x="575" y="1118"/><use href="#P" x="575" y="1166"/><use href="#P" x="549" y="1214"/><use href="#P" x="522" y="1262"/><use href="#P" x="497" y="1310"/>
<path class="p" d="M478,1342 L478,1357 L610,1357 L610,1370"/>
<use href="#P" x="497" y="1358"/><use href="#P" x="522" y="1406"/><use href="#P" x="549" y="1453"/><use href="#P" x="575" y="1501"/>
<path class="b" d="M478,1565 L478,1550 L607,1550 L607,1532"/>
<rect class="l" x="549" y="1555" width="46" height="15"/>
<!-- col24 -->
<path class="b" d="M855,0 L855,16 L740,16 L910,165 L910,735 L770,735 L770,748"/>
<path class="p" d="M895,0 L895,18 L820,118 L820,785 L925,785 L925,928 L760,928 L760,1500 L900,1500 L900,1512"/>
<path class="b" d="M850,935 L850,1550 L740,1550 L740,1565"/>
<rect class="l" x="785" y="790" width="46" height="47"/>
<rect class="l" x="838" y="1555" width="46" height="15"/>
<g id="c24a">
<use href="#O" x="838" y="209"/><use href="#O" x="838" y="233"/><use href="#O" x="838" y="257"/><use href="#O" x="838" y="281"/><use href="#O" x="838" y="305"/><use href="#O" x="838" y="329"/><use href="#O" x="838" y="353"/><use href="#O" x="838" y="377"/><use href="#O" x="838" y="401"/><use href="#O" x="838" y="425"/><use href="#O" x="838" y="449"/><use href="#O" x="838" y="473"/><use href="#O" x="838" y="497"/><use href="#O" x="838" y="521"/><use href="#O" x="838" y="545"/><use href="#O" x="838" y="569"/><use href="#O" x="838" y="593"/><use href="#O" x="838" y="617"/><use href="#O" x="838" y="641"/><use href="#O" x="838" y="665"/><use href="#O" x="838" y="689"/>
</g>
<g transform="translate(30,0)">
<use href="#P" x="838" y="209"/><use href="#P" x="838" y="233"/><use href="#P" x="838" y="257"/><use href="#P" x="838" y="281"/><use href="#P" x="838" y="305"/><use href="#P" x="838" y="329"/><use href="#P" x="838" y="353"/><use href="#P" x="838" y="377"/><use href="#P" x="838" y="401"/><use href="#P" x="838" y="425"/><use href="#P" x="838" y="449"/><use href="#P" x="838" y="473"/><use href="#P" x="838" y="497"/><use href="#P" x="838" y="521"/><use href="#P" x="838" y="545"/><use href="#P" x="838" y="569"/><use href="#P" x="838" y="593"/><use href="#P" x="838" y="617"/><use href="#P" x="838" y="641"/><use href="#P" x="838" y="665"/><use href="#P" x="838" y="689"/>
</g>
<g id="c24b">
<use href="#O" x="785" y="975"/><use href="#O" x="785" y="999"/><use href="#O" x="785" y="1023"/><use href="#O" x="785" y="1047"/><use href="#O" x="785" y="1071"/><use href="#O" x="785" y="1095"/><use href="#O" x="785" y="1119"/><use href="#O" x="785" y="1143"/><use href="#O" x="785" y="1167"/><use href="#O" x="785" y="1191"/><use href="#O" x="785" y="1215"/><use href="#O" x="785" y="1239"/><use href="#O" x="785" y="1263"/><use href="#O" x="785" y="1287"/><use href="#O" x="785" y="1311"/><use href="#O" x="785" y="1335"/><use href="#O" x="785" y="1359"/><use href="#O" x="785" y="1383"/><use href="#O" x="785" y="1407"/><use href="#O" x="785" y="1431"/><use href="#O" x="785" y="1455"/>
</g>
<g transform="translate(0,0)">
<use href="#P" x="787" y="975"/><use href="#P" x="787" y="999"/><use href="#P" x="787" y="1023"/><use href="#P" x="787" y="1047"/><use href="#P" x="787" y="1071"/><use href="#P" x="787" y="1095"/><use href="#P" x="787" y="1119"/><use href="#P" x="787" y="1143"/><use href="#P" x="787" y="1167"/><use href="#P" x="787" y="1191"/><use href="#P" x="787" y="1215"/><use href="#P" x="787" y="1239"/><use href="#P" x="787" y="1263"/><use href="#P" x="787" y="1287"/><use href="#P" x="787" y="1311"/><use href="#P" x="787" y="1335"/><use href="#P" x="787" y="1359"/><use href="#P" x="787" y="1383"/><use href="#P" x="787" y="1407"/><use href="#P" x="787" y="1431"/><use href="#P" x="787" y="1455"/>
</g>
<!-- col25 -->
<use href="#P" x="1073" y="17"/><use href="#P" x="1098" y="17"/>
<rect class="l" x="1125" y="24" width="46" height="47"/><rect class="l" x="1073" y="72" width="46" height="47"/>
<path class="b" d="M1182,192 L1182,208 L1060,208 L1060,352 L1197,352 L1197,735 L1060,735 L1060,748"/>
<path class="p" d="M1230,192 L1230,208 L1105,208 L1105,785 L1215,785 L1215,928 L1045,928 L1045,1500 L1185,1500 L1185,1560"/>
<path class="b" d="M1137,935 L1137,1550 L1025,1550 L1040,1568"/>
<rect class="l" x="1073" y="790" width="46" height="47"/>
<g transform="translate(1125,0)">
<use href="#P" x="0" y="401"/><use href="#P" x="0" y="425"/><use href="#P" x="0" y="449"/><use href="#P" x="0" y="473"/><use href="#P" x="0" y="497"/><use href="#P" x="0" y="521"/><use href="#P" x="0" y="545"/><use href="#P" x="0" y="569"/><use href="#P" x="0" y="593"/><use href="#P" x="0" y="617"/><use href="#P" x="0" y="641"/><use href="#P" x="0" y="665"/><use href="#P" x="0" y="689"/>
<use href="#P" x="25" y="401"/><use href="#P" x="25" y="425"/><use href="#P" x="25" y="449"/><use href="#P" x="25" y="473"/><use href="#P" x="25" y="497"/><use href="#P" x="25" y="521"/><use href="#P" x="25" y="545"/><use href="#P" x="25" y="569"/><use href="#P" x="25" y="593"/><use href="#P" x="25" y="617"/><use href="#P" x="25" y="641"/><use href="#P" x="25" y="665"/><use href="#P" x="25" y="689"/>
</g>
<g transform="translate(1073,0)">
<use href="#P" x="0" y="975"/><use href="#P" x="0" y="999"/><use href="#P" x="0" y="1023"/><use href="#P" x="0" y="1047"/><use href="#P" x="0" y="1071"/><use href="#P" x="0" y="1095"/><use href="#P" x="0" y="1119"/><use href="#P" x="0" y="1143"/><use href="#P" x="0" y="1167"/><use href="#P" x="0" y="1191"/><use href="#P" x="0" y="1215"/><use href="#P" x="0" y="1239"/><use href="#P" x="0" y="1263"/><use href="#P" x="0" y="1287"/><use href="#P" x="0" y="1311"/><use href="#P" x="0" y="1335"/><use href="#P" x="0" y="1359"/><use href="#P" x="0" y="1383"/><use href="#P" x="0" y="1407"/><use href="#P" x="0" y="1431"/><use href="#P" x="0" y="1455"/>
<use href="#P" x="25" y="975"/><use href="#P" x="25" y="999"/><use href="#P" x="25" y="1023"/><use href="#P" x="25" y="1047"/><use href="#P" x="25" y="1071"/><use href="#P" x="25" y="1095"/><use href="#P" x="25" y="1119"/><use href="#P" x="25" y="1143"/><use href="#P" x="25" y="1167"/><use href="#P" x="25" y="1191"/><use href="#P" x="25" y="1215"/><use href="#P" x="25" y="1239"/><use href="#P" x="25" y="1263"/><use href="#P" x="25" y="1287"/><use href="#P" x="25" y="1311"/><use href="#P" x="25" y="1335"/><use href="#P" x="25" y="1359"/><use href="#P" x="25" y="1383"/><use href="#P" x="25" y="1407"/><use href="#P" x="25" y="1431"/><use href="#P" x="25" y="1455"/>
</g>
<!-- col26 -->
<path class="p" d="M1285,400 L1530,400 L1530,385"/>
<path class="pt" d="M1290,405 C1500,500 1300,600 1475,690"/>
<path class="bt" d="M1345,505 C1500,620 1350,700 1535,780"/>
<path class="b" d="M1285,795 L1285,780 L1540,780"/>
<use href="#O" x="1360" y="400"/><use href="#O" x="1411" y="400"/>
<rect class="l" x="1411" y="790" width="46" height="95"/>
<use href="#P" x="1360" y="903"/><use href="#P" x="1385" y="903"/><use href="#O" x="1411" y="928"/><use href="#P" x="1360" y="951"/><use href="#P" x="1385" y="951"/><use href="#O" x="1411" y="975"/><use href="#P" x="1385" y="998"/><use href="#P" x="1410" y="998"/><use href="#P" x="1411" y="1022"/><use href="#P" x="1436" y="1022"/><use href="#P" x="1385" y="1046"/><use href="#P" x="1410" y="1046"/><use href="#P" x="1411" y="1070"/><use href="#P" x="1436" y="1070"/><use href="#P" x="1385" y="1094"/><use href="#P" x="1410" y="1094"/><use href="#P" x="1411" y="1118"/><use href="#P" x="1436" y="1118"/><use href="#P" x="1360" y="1142"/><use href="#P" x="1385" y="1142"/><use href="#P" x="1411" y="1166"/><use href="#P" x="1436" y="1166"/>
<rect class="l" x="1360" y="1172" width="46" height="95"/>
<use href="#P" x="1411" y="1286"/><use href="#P" x="1436" y="1286"/><use href="#O" x="1360" y="1310"/><use href="#P" x="1411" y="1334"/><use href="#P" x="1436" y="1334"/><use href="#O" x="1360" y="1358"/><use href="#P" x="1385" y="1382"/><use href="#P" x="1410" y="1382"/><use href="#P" x="1360" y="1406"/><use href="#P" x="1385" y="1406"/><use href="#P" x="1385" y="1430"/><use href="#P" x="1410" y="1430"/><use href="#P" x="1360" y="1453"/><use href="#P" x="1385" y="1453"/><use href="#P" x="1385" y="1477"/><use href="#P" x="1410" y="1477"/><use href="#P" x="1360" y="1501"/><use href="#P" x="1385" y="1501"/><use href="#P" x="1385" y="1525"/><use href="#P" x="1410" y="1525"/><use href="#P" x="1360" y="1549"/><use href="#P" x="1385" y="1549"/>
<rect class="l" x="1411" y="1555" width="46" height="15"/>
</g>
</svg>
</body></html>
